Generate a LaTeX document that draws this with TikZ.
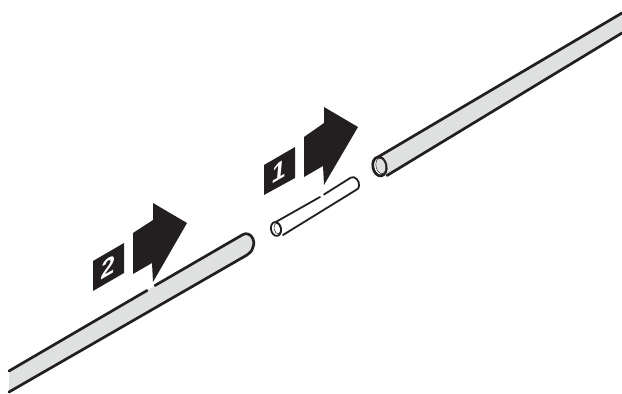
\documentclass[tikz,border=0pt]{standalone}
\usepackage{fontspec}
\setmainfont{Liberation Sans}
\definecolor{Ink}{HTML}{231F20}
\definecolor{TubeGray}{HTML}{DFE0E0}
\tikzset{
  tubeline/.style={draw=Ink, line width=2.7pt, line cap=round, line join=round},
  thinline/.style={draw=Ink, line width=1.8pt, line cap=round, line join=round},
  blackshape/.style={fill=Ink},
  tag/.style={text=white, font=\bfseries\fontsize{25}{25}\selectfont, inner sep=0pt, yslant=0.58, xslant=0.1, transform shape}
}
\begin{document}
\begin{tikzpicture}[x=1pt,y=-1pt]
\useasboundingbox (0,0) rectangle (622,394);
% right tube
\fill[TubeGray] (378,158) -- (622,14) -- (622,33) -- (387,175) -- cycle;
\draw[tubeline] (378,157) -- (622,13);
\draw[tubeline] (387,175.5) -- (622,33);
\draw[tubeline,fill=white] (379.5,166.5) ellipse [x radius=6.6pt,y radius=9.6pt,rotate=12];
\draw[draw=Ink,line width=.5pt,fill=TubeGray] (380.8,166) ellipse [x radius=4.8pt,y radius=7.8pt,rotate=12];
% left tube
\fill[TubeGray] (9,371) -- (243,234.5) .. controls (250,231) and (256,240) .. (253,247) .. controls (252,251) and (250,253) .. (247,255) -- (9,392) -- cycle;
\draw[tubeline] (9,371) -- (147,290.5);
\draw[tubeline] (155,285.5) -- (243,234.5) .. controls (250,231) and (256,240) .. (253,247) .. controls (252,251) and (250,253) .. (247,255) -- (9,392);
% short tube
\draw[thinline] (274,223) -- (320,197);
\draw[thinline] (324,194.5) -- (351,177.5) .. controls (355,175.5) and (360,181) .. (359,186) .. controls (359,188) and (358,189) .. (356,190) -- (283,235);
\draw[thinline,fill=white] (276,229) ellipse [x radius=5pt,y radius=7pt,rotate=12];
\draw[draw=Ink,line width=.5pt] (277.3,228.6) ellipse [x radius=3.2pt,y radius=5.4pt,rotate=12];
% arrows
\fill[blackshape] (358,127) -- (324,107) -- (324,123) -- (304,137) -- (304,177) -- (323,166) -- (324,185) -- cycle;
\fill[blackshape] (187,223) -- (153,203) -- (153,220) -- (133,233) -- (133,274) -- (152,263) -- (153,282) -- cycle;
% tags
\fill[blackshape] (264,165) -- (295,147) -- (295,178) -- (264,195) -- cycle;
\fill[blackshape] (93,261) -- (124,243) -- (124,273) -- (93,291) -- cycle;
\node[tag] (tagone) at (279.5,171) {1};
\node[tag] (tagtwo) at (108.5,267) {2};
\end{tikzpicture}
\end{document}
